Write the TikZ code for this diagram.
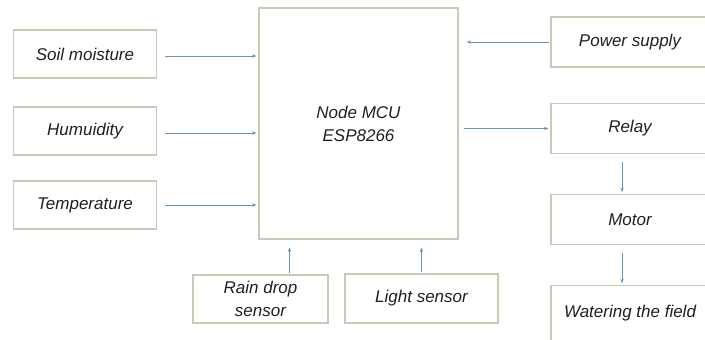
\documentclass[tikz,border=0pt]{standalone}
\usepackage{fontspec}
\setmainfont{Liberation Sans}
\usetikzlibrary{arrows.meta, positioning, calc}
\definecolor{frame}{HTML}{C3CCB6}
\definecolor{wire}{HTML}{6894B8}
\definecolor{ink}{HTML}{202020}

\begin{document}
\begin{tikzpicture}[
    x=1pt, y=1pt,
    node distance = 30pt and 100pt,
    > = {Stealth[length=4.5pt, width=3.5pt]},
    box/.style    = {draw=frame, line width=1.2pt, align=center, text=ink,
                     font=\fontsize{17}{23}\selectfont\itshape, inner sep=2pt},
    inbox/.style  = {box, minimum width=143pt, minimum height=48pt},
    outbox/.style = {box, minimum width=158pt, minimum height=50pt},
    mcubox/.style = {box, minimum width=199pt, minimum height=231pt},
    link/.style   = {->, line width=0.8pt, draw=wire, shorten <=8pt, shorten >=2pt},
    back/.style   = {->, line width=0.8pt, draw=wire, shorten <=1pt, shorten >=8pt},
]
\useasboundingbox[fill=white] (0,0) rectangle (705,340);

% ---------------------------------------------- controller ----------------------------------------------
\node[mcubox] (mcu) at (358.5,216.5) {Node MCU\\ESP8266};

% ----------------------------------------------- sensors ------------------------------------------------
\node[inbox] (soil) at (85,286)   {Soil moisture};
\node[inbox] (hum)  at (85,209)   {Humuidity};
\node[inbox] (temp) at (85,135)   {Temperature};
\node[box, minimum width=135pt, minimum height=48pt] (rain)  at (260.5,41)
    {Rain drop\\sensor};
\node[box, minimum width=153pt, minimum height=49pt] (light) at (421.5,41.5)
    {Light sensor};

% ------------------------------------------------ outputs -----------------------------------------------
\node[outbox] (power) at (630,298)   {Power supply};
\node[outbox] (relay) at (630,211.5) {Relay};
\node[outbox, below=40pt of relay]   (motor) {Motor};
\node[outbox, below=40pt of motor, minimum height=55pt] (water) {Watering the field};

% ------------------------------------------------ arrows ------------------------------------------------
\draw[link] ([yshift=-2pt]soil.east) -- ([yshift=-2pt]soil.east -| mcu.west);
\draw[link] ([yshift=-2pt]hum.east)  -- ([yshift=-2pt]hum.east -| mcu.west);
\draw[link] (temp.east) -- (temp.east -| mcu.west);
\draw[back] ([xshift=29pt]rain.north) -- ([xshift=29pt]rain.north |- mcu.south);
\draw[back] (light.north) -- (light.north |- mcu.south);
\draw[back] (power.west) -- (power.west -| mcu.east);
\draw[link, shorten <=5pt] (relay.west -| mcu.east) -- (relay.west);
\draw[link] ([xshift=-8pt]relay.south) -- ([xshift=-8pt]motor.north);
\draw[link] ([xshift=-8pt]motor.south) -- ([xshift=-8pt]water.north);

\end{tikzpicture}
\end{document}
